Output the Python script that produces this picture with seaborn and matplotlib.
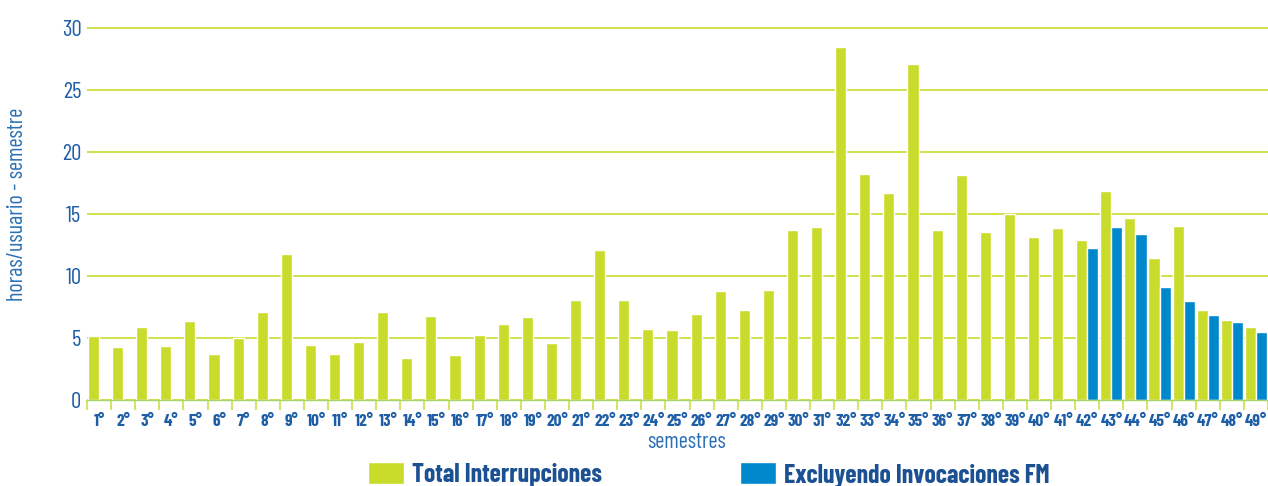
import numpy as np
import pandas as pd
import seaborn as sns
import matplotlib.pyplot as plt

# semestres 1° .. 49°
semestres = [f"{i}°" for i in range(1, 50)]

total = [5.15, 4.27, 5.88, 4.35, 6.36, 3.70, 5.00, 7.08, 11.75, 4.43,
         3.71, 4.67, 7.09, 3.38, 6.77, 3.63, 5.24, 6.12, 6.69, 4.59,
         8.05, 12.08, 8.05, 5.72, 5.64, 6.92, 8.78, 7.25, 8.86, 13.69,
         13.93, 28.42, 18.20, 16.67, 27.05, 13.69, 18.13, 13.54, 14.99, 13.13,
         13.86, 12.88, 16.83, 14.65, 11.43, 14.01, 7.25, 6.44, 5.88]

# solo desde el semestre 42
excluyendo = [np.nan] * 41 + [12.24, 13.93, 13.37, 9.10, 7.97, 6.84, 6.28, 5.48]

series = ["Total Interrupciones", "Excluyendo Invocaciones FM"]

verde = "#cadc2b"
azul = "#0088cc"
texto = "#1d5ea6"

cond = ["Barlow Condensed", "Roboto Condensed", "DejaVu Sans"]

df = pd.DataFrame({
    "semestre": semestres * 2,
    "valor": total + excluyendo,
    "serie": [series[0]] * 49 + [series[1]] * 49,
})

sns.set_style("white")
plt.rcParams["font.family"] = cond

fig = plt.figure(figsize=(12.68, 4.86), dpi=100)
ax = fig.add_axes([87 / 1268, 86 / 486, 1 - 87 / 1268, (400 - 25.2) / 486])

sns.barplot(data=df, x="semestre", y="valor", hue="serie", order=semestres,
            hue_order=series, palette=[verde, azul], saturation=1,
            width=0.92, dodge=True, errorbar=None, ax=ax)

ax.set_xlim(-0.5, 48.5)
ax.set_ylim(0, 30.2)
ax.set_yticks([0, 5, 10, 15, 20, 25, 30])

ax.grid(axis="y", color="#cfdf3f", linewidth=1.3)
ax.set_axisbelow(True)
for s in ["top", "right", "left"]:
    ax.spines[s].set_visible(False)
ax.spines["bottom"].set_color("#a8d46c")
ax.spines["bottom"].set_linewidth(1.0)

ax.tick_params(axis="y", length=0, pad=4, labelsize=16.5, labelcolor=texto)
ax.tick_params(axis="x", length=0, pad=10, labelsize=12.5, labelcolor=texto)
for t in ax.get_xticklabels():
    t.set_fontweight("bold")

# marcas entre categorias
ax.set_xticks(np.arange(-0.5, 49, 1), minor=True)
ax.tick_params(axis="x", which="minor", bottom=True, length=7, width=1.5,
               color="#d6e46c", direction="out")

ax.set_xlabel("")
ax.set_ylabel("")
fig.text(686 / 1268, 1 - 442 / 486, "semestres", ha="center", va="center",
         fontsize=16, color="#2a6fb5")
fig.text(18 / 1268, 1 - 204 / 486, "horas/usuario - semestre", ha="center", va="center",
         rotation=90, fontsize=16, color="#2a6fb5")

handles, labels = ax.get_legend_handles_labels()
if ax.legend_:
    ax.legend_.remove()
leg = fig.legend(handles, labels, ncol=2, loc="center left",
                 bbox_to_anchor=(368 / 1268, 1 - 475 / 486), frameon=False,
                 handlelength=1.4, handleheight=0.95, handletextpad=0.3,
                 columnspacing=5.4, borderpad=0, borderaxespad=0,
                 prop={"family": cond, "size": 18.5, "weight": "bold"})
for t in leg.get_texts():
    t.set_color("#1b5193")

fig.savefig("out.png", dpi=100, facecolor="white")
